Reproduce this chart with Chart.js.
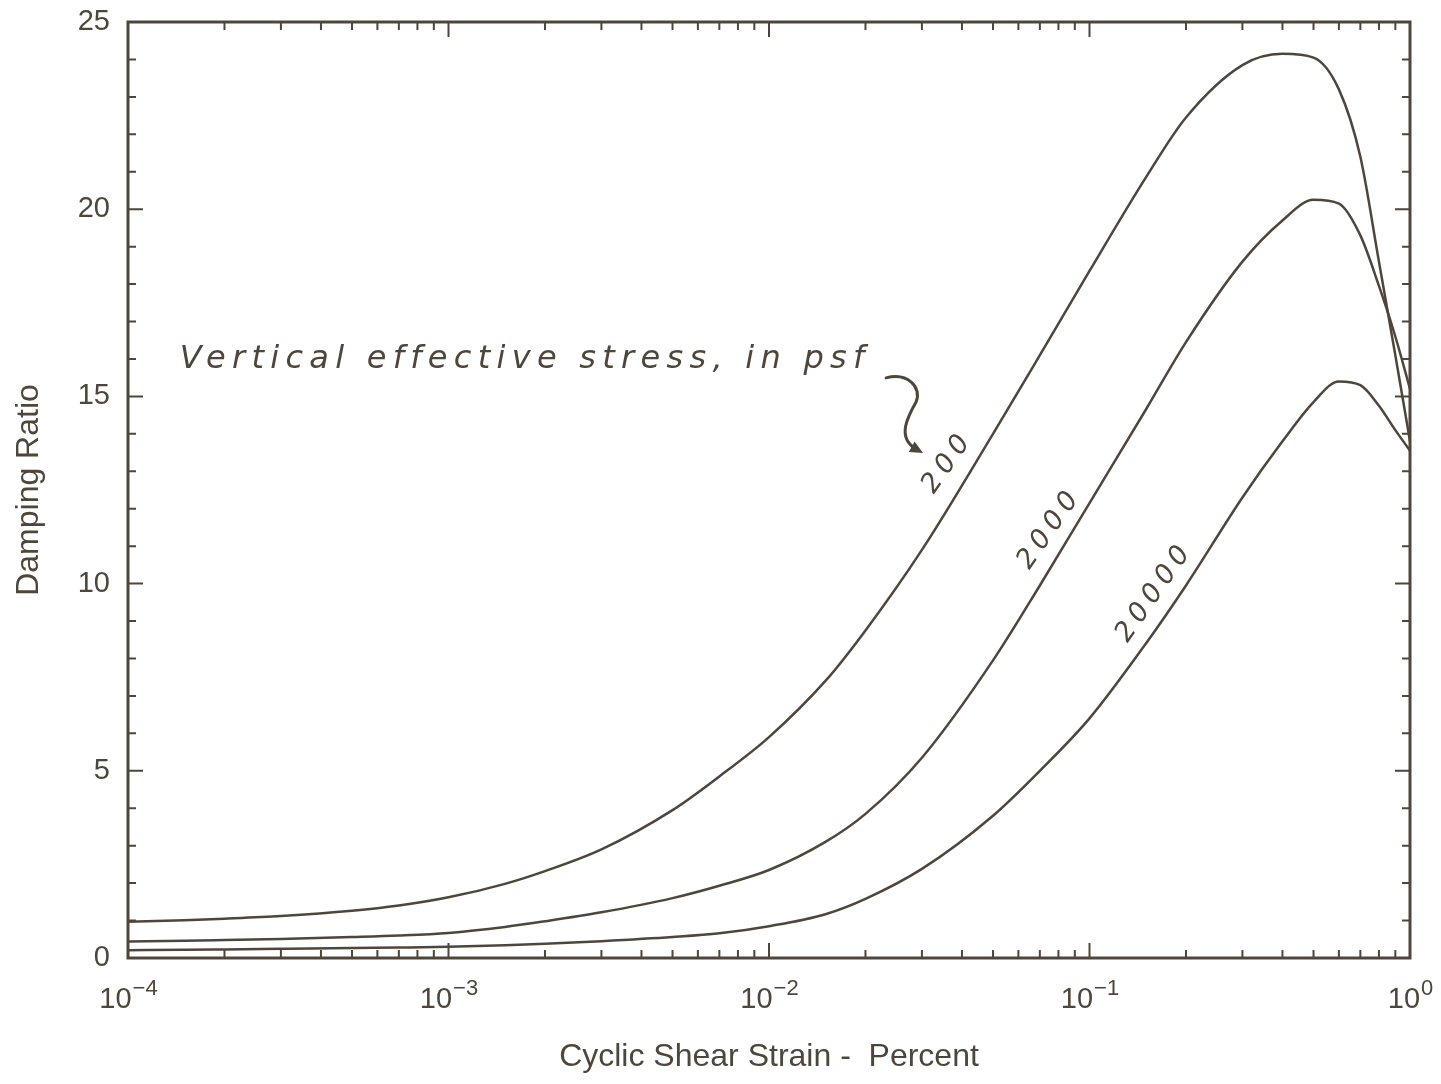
<!DOCTYPE html>
<html>
<head>
<meta charset="utf-8">
<script src="https://cdn.jsdelivr.net/npm/chart.js@4.4.1/dist/chart.umd.min.js"></script>
<style>
  html, body { margin: 0; padding: 0; background: #fff; }
  #wrap { width: 1441px; height: 1084px; }
</style>
</head>
<body>
<div id="wrap"><canvas id="damping" width="1441" height="1084"></canvas></div>
<script>
// cyclic shear strain, percent
const strain = [0.0001, 0.00015, 0.0002, 0.0003, 0.0005, 0.0007, 0.001, 0.0015, 0.002, 0.003,
                0.005, 0.007, 0.01, 0.015, 0.02, 0.03, 0.05, 0.07, 0.1, 0.15, 0.2, 0.3, 0.4,
                0.5, 0.6, 0.7, 0.8, 0.9, 1.0];

// damping ratio (%) for each vertical effective stress (psf)
const damping200   = [0.97, 1.01, 1.05, 1.12, 1.26, 1.40, 1.62, 1.98, 2.32, 2.9,
                      3.95, 4.85, 5.9, 7.4, 8.75, 10.9, 14.0, 16.1, 18.35, 20.85, 22.45, 23.85, 24.15,
                      24.05, 23.2, 21.4, 18.6, 16.1, 13.8];
const damping2000  = [0.44, 0.46, 0.48, 0.51, 0.56, 0.60, 0.67, 0.83, 0.98, 1.22,
                      1.6, 1.93, 2.35, 3.1, 3.85, 5.35, 7.95, 9.95, 12.15, 14.65, 16.45, 18.6, 19.7,
                      20.25, 20.15, 19.3, 17.95, 16.6, 15.2];
const damping20000 = [0.21, 0.22, 0.23, 0.245, 0.265, 0.28, 0.30, 0.34, 0.38, 0.45,
                      0.56, 0.66, 0.85, 1.17, 1.58, 2.38, 3.8, 5.0, 6.4, 8.4, 9.95, 12.3, 13.8,
                      14.85, 15.4, 15.3, 14.75, 14.1, 13.55];

const stressLabels = ['200', '2000', '20000'];
const decadeTicks = [0.0001, 0.001, 0.01, 0.1, 1];
const decadeExp = ['\u22124', '\u22123', '\u22122', '\u22121', '0'];
const dampingTicks = [0, 5, 10, 15, 20, 25];

const INK = '#4f463b';
const SANS = '"Liberation Sans", Arial, sans-serif';
const HAND = '"DejaVu Sans", sans-serif';

// where the hand-written notes sit, in data units
const noteText = 'Vertical effective stress, in psf';
const noteAt = { x: 1.45e-4, y: 15.76 };
const noteEndX = 0.0199;
const curveLabelAt = [
  { x: 0.0362, y: 13.25 },
  { x: 0.0753, y: 11.48 },
  { x: 0.160, y: 9.78 }
];

function pts(vals) {
  return strain.map((s, i) => ({ x: s, y: vals[i] }));
}

// frame with inward ticks on all four sides
const frameTicks = {
  id: 'frameTicks',
  afterDatasetsDraw(chart) {
    const { ctx, chartArea: a, scales: { x, y } } = chart;
    ctx.save();
    ctx.strokeStyle = INK;
    ctx.lineWidth = 3;
    ctx.strokeRect(a.left, a.top, a.right - a.left, a.bottom - a.top);
    ctx.lineWidth = 2;
    ctx.beginPath();
    for (let e = -4; e <= 0; e++) {
      for (let m = 1; m <= 9; m++) {
        const v = m * Math.pow(10, e);
        if (v > x.max * 1.0001) break;
        const px = x.getPixelForValue(v);
        const len = m === 1 ? 15 : 8;
        ctx.moveTo(px, a.bottom); ctx.lineTo(px, a.bottom - len);
        ctx.moveTo(px, a.top); ctx.lineTo(px, a.top + len);
      }
    }
    for (let v = y.min; v <= y.max; v++) {
      const py = y.getPixelForValue(v);
      const len = v % 5 === 0 ? 15 : 8;
      ctx.moveTo(a.left, py); ctx.lineTo(a.left + len, py);
      ctx.moveTo(a.right, py); ctx.lineTo(a.right - len, py);
    }
    ctx.stroke();

    // decade labels 10^n
    ctx.fillStyle = INK;
    ctx.textBaseline = 'alphabetic';
    decadeTicks.forEach((v, i) => {
      const px = x.getPixelForValue(v);
      ctx.font = '29px ' + SANS;
      const wb = ctx.measureText('10').width;
      ctx.font = '22px ' + SANS;
      const ws = ctx.measureText(decadeExp[i]).width;
      const start = px - (wb + ws) / 2;
      ctx.font = '29px ' + SANS;
      ctx.fillText('10', start, a.bottom + 50);
      ctx.font = '22px ' + SANS;
      ctx.fillText(decadeExp[i], start + wb + 1, a.bottom + 37);
    });
    ctx.restore();
  }
};

// hand-written notes: caption, arrow and curve labels
const notes = {
  id: 'notes',
  afterDraw(chart) {
    const { ctx, scales: { x, y } } = chart;
    ctx.save();
    ctx.fillStyle = INK;
    ctx.strokeStyle = INK;

    // caption
    const nx = x.getPixelForValue(noteAt.x);
    const ny = y.getPixelForValue(noteAt.y);
    const target = x.getPixelForValue(noteEndX) - nx;
    ctx.font = 'italic 32px ' + HAND;
    const w = ctx.measureText(noteText).width;
    ctx.letterSpacing = ((target - w) / (noteText.length - 1)).toFixed(2) + 'px';
    ctx.textBaseline = 'alphabetic';
    ctx.fillText(noteText, nx, ny);
    ctx.letterSpacing = '0px';

    // curve labels, turned along the curves
    ctx.font = 'italic 27px ' + HAND;
    ctx.letterSpacing = '6px';
    ctx.textAlign = 'center';
    ctx.textBaseline = 'middle';
    curveLabelAt.forEach((p, i) => {
      ctx.save();
      ctx.translate(x.getPixelForValue(p.x), y.getPixelForValue(p.y));
      ctx.rotate(-55 * Math.PI / 180);
      ctx.fillText(stressLabels[i], 0, 0);
      ctx.restore();
    });
    ctx.letterSpacing = '0px';

    // curly arrow pointing at the 200 label
    const ax = x.getPixelForValue(curveLabelAt[0].x);
    const ay = y.getPixelForValue(curveLabelAt[0].y);
    ctx.lineWidth = 3;
    ctx.lineCap = 'round';
    ctx.beginPath();
    ctx.moveTo(ax - 62, ay - 84);
    ctx.bezierCurveTo(ax - 40, ay - 90, ax - 26, ay - 74, ax - 32, ay - 60);
    ctx.bezierCurveTo(ax - 40, ay - 46, ax - 52, ay - 24, ax - 32, ay - 13);
    ctx.stroke();
    ctx.translate(ax - 25, ay - 9);
    ctx.rotate(Math.atan2(11, 20));
    ctx.beginPath();
    ctx.moveTo(0, 0);
    ctx.lineTo(-13, -6);
    ctx.lineTo(-13, 6);
    ctx.closePath();
    ctx.fill();
    ctx.restore();
  }
};

const lineStyle = {
  borderColor: INK,
  borderWidth: 2.5,
  pointRadius: 0,
  fill: false,
  cubicInterpolationMode: 'monotone'
};

new Chart(document.getElementById('damping'), {
  type: 'line',
  data: {
    datasets: [
      { label: stressLabels[0], data: pts(damping200), ...lineStyle },
      { label: stressLabels[1], data: pts(damping2000), ...lineStyle },
      { label: stressLabels[2], data: pts(damping20000), ...lineStyle }
    ]
  },
  options: {
    responsive: false,
    animation: false,
    layout: { padding: { top: 22, right: 31, left: 0, bottom: 0 } },
    plugins: {
      legend: { display: false },
      tooltip: { enabled: false }
    },
    scales: {
      x: {
        type: 'logarithmic',
        min: 0.0001,
        max: 1,
        grid: { display: false },
        border: { display: false },
        ticks: { display: false },
        afterBuildTicks: s => { s.ticks = decadeTicks.map(v => ({ value: v })); },
        afterFit: s => { s.height = 126; s.paddingLeft = 0; s.paddingRight = 0; },
        title: {
          display: true,
          text: 'Cyclic Shear Strain -  Percent',
          color: INK,
          font: { family: SANS, size: 32 },
          padding: { top: 0, bottom: 8 }
        }
      },
      y: {
        min: 0,
        max: 25,
        grid: { display: false },
        border: { display: false },
        afterBuildTicks: s => { s.ticks = dampingTicks.map(v => ({ value: v })); },
        afterFit: s => { s.width = 128; s.paddingTop = 0; s.paddingBottom = 0; },
        ticks: {
          color: INK,
          padding: 10,
          font: { family: SANS, size: 29 }
        },
        title: {
          display: true,
          text: 'Damping Ratio',
          color: INK,
          font: { family: SANS, size: 32 },
          padding: { top: 10, bottom: 0 }
        }
      }
    }
  },
  plugins: [frameTicks, notes]
});
</script>
</body>
</html>
